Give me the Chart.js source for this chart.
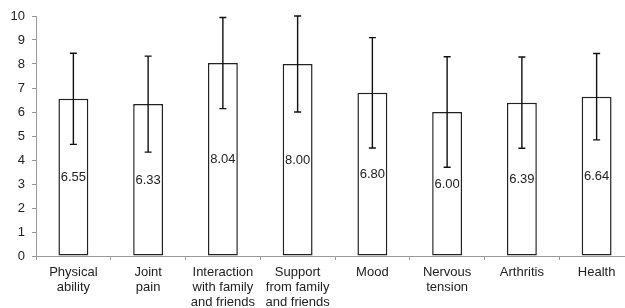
<!DOCTYPE html>
<html lang="en">
<head>
    <meta charset="UTF-8">
    <title>Scores with SD</title>
    <script src="https://cdn.jsdelivr.net/npm/chart.js"></script>
    <style>
        html, body { margin: 0; padding: 0; background: #fff; overflow: hidden; }
        #wrap { width: 634px; height: 308px; }
    </style>
</head>
<body>
    <div id="wrap">
        <canvas id="grafico" width="634" height="308"></canvas>
    </div>

    <script>
        // categories, means and standard deviations
        const categorias = [
            ['Physical', 'ability'],
            ['Joint', 'pain'],
            ['Interaction', 'with family', 'and friends'],
            ['Support', 'from family', 'and friends'],
            'Mood',
            ['Nervous', 'tension'],
            'Arthritis',
            'Health'
        ];
        const medias = [6.55, 6.33, 8.04, 8.00, 6.80, 6.00, 6.39, 6.64];
        const desvios = [1.9, 2.0, 1.9, 2.0, 2.3, 2.3, 1.9, 1.8];
        const ticksY = [0, 1, 2, 3, 4, 5, 6, 7, 8, 9, 10];

        const corTexto = '#222';
        const fonte = { family: 'Arial, "Liberation Sans", sans-serif', size: 13, lineHeight: 1.15 };

        // draws error bars and the value labels in the middle of each bar
        const barrasErro = {
            id: 'barrasErro',
            afterDatasetsDraw(chart) {
                const ctx = chart.ctx;
                const y = chart.scales.y;
                const meta = chart.getDatasetMeta(0);
                ctx.save();
                ctx.font = fonte.size + 'px ' + fonte.family;
                ctx.fillStyle = corTexto;
                ctx.textAlign = 'center';
                ctx.textBaseline = 'middle';
                meta.data.forEach((bar, i) => {
                    ctx.fillText(medias[i].toFixed(2), bar.x, y.getPixelForValue(medias[i] / 2));
                });
                ctx.strokeStyle = '#111';
                ctx.lineWidth = 1.4;
                meta.data.forEach((bar, i) => {
                    const topo = y.getPixelForValue(medias[i] + desvios[i]);
                    const base = y.getPixelForValue(medias[i] - desvios[i]);
                    ctx.beginPath();
                    ctx.moveTo(bar.x, topo);
                    ctx.lineTo(bar.x, base);
                    ctx.moveTo(bar.x - 3.5, topo);
                    ctx.lineTo(bar.x + 3.5, topo);
                    ctx.moveTo(bar.x - 3.5, base);
                    ctx.lineTo(bar.x + 3.5, base);
                    ctx.stroke();
                });
                ctx.restore();
            }
        };

        new Chart(document.getElementById('grafico'), {
            type: 'bar',
            data: {
                labels: categorias,
                datasets: [{
                    data: medias,
                    backgroundColor: '#fff',
                    borderColor: '#222',
                    borderWidth: 1.5,
                    borderSkipped: false,
                    barPercentage: 0.4,
                    categoryPercentage: 1
                }]
            },
            options: {
                responsive: false,
                animation: false,
                layout: { padding: { top: 16, left: 0, right: 0, bottom: 0 } },
                plugins: {
                    legend: { display: false },
                    tooltip: { enabled: false }
                },
                scales: {
                    x: {
                        offset: true,
                        grid: {
                            offset: true,
                            drawOnChartArea: false,
                            drawTicks: true,
                            tickLength: 4,
                            color: '#999'
                        },
                        border: { color: '#999', width: 1 },
                        ticks: {
                            color: corTexto,
                            font: fonte,
                            padding: 5,
                            maxRotation: 0,
                            autoSkip: false
                        },
                        afterFit(s) { s.height = 52; }
                    },
                    y: {
                        min: 0,
                        max: 10,
                        afterBuildTicks(s) { s.ticks = ticksY.map(v => ({ value: v })); },
                        grid: {
                            drawOnChartArea: false,
                            drawTicks: true,
                            tickLength: 4,
                            color: '#999'
                        },
                        border: { color: '#999', width: 1 },
                        ticks: {
                            color: corTexto,
                            font: { family: fonte.family, size: 13 },
                            padding: 7
                        },
                        afterFit(s) { s.width = 36; }
                    }
                }
            },
            plugins: [barrasErro]
        });
    </script>
</body>
</html>
